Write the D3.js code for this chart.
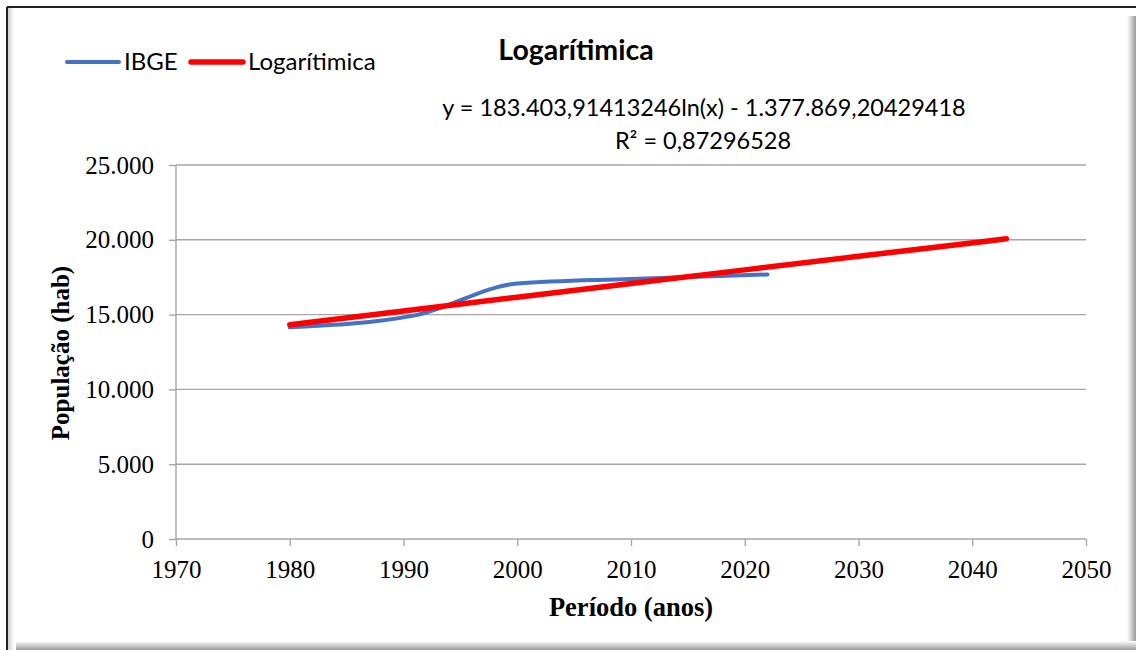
<!DOCTYPE html>
<html>
<head>
<meta charset="utf-8">
<script src="https://cdn.jsdelivr.net/npm/d3@7"></script>
<style>
  body { margin: 0; background: #fff; }
  svg { display: block; }
</style>
</head>
<body>
<div id="chart-area"></div>
<script>
// IBGE census values
var ibgeYears = [1980, 1991, 2000, 2010, 2022];
var ibgeValues = [14150, 14950, 17080, 17380, 17680];

// logarithmic trendline
var trendYears = [1980, 1990, 2000, 2010, 2020, 2030, 2043];
var trendValues = [14322, 15246, 16165, 17080, 17990, 18896, 20066];

var xTicks = [1970, 1980, 1990, 2000, 2010, 2020, 2030, 2040, 2050];
var yTicks = [0, 5000, 10000, 15000, 20000, 25000];

var W = 1136, H = 650;
var svg = d3.select("#chart-area").append("svg")
    .attr("width", W)
    .attr("height", H);

// frame + shadow
var defs = svg.append("defs");
var gr = defs.append("linearGradient").attr("id", "shR").attr("x1", 0).attr("x2", 1).attr("y1", 0).attr("y2", 0);
gr.append("stop").attr("offset", "0%").attr("stop-color", "#fff");
gr.append("stop").attr("offset", "100%").attr("stop-color", "#9a9a9a");
var gb = defs.append("linearGradient").attr("id", "shB").attr("x1", 0).attr("x2", 0).attr("y1", 0).attr("y2", 1);
gb.append("stop").attr("offset", "0%").attr("stop-color", "#fff");
gb.append("stop").attr("offset", "100%").attr("stop-color", "#9a9a9a");
var gl = defs.append("linearGradient").attr("id", "shL").attr("x1", 0).attr("x2", 1).attr("y1", 0).attr("y2", 0);
gl.append("stop").attr("offset", "0%").attr("stop-color", "#d0d0d0");
gl.append("stop").attr("offset", "100%").attr("stop-color", "#fff");

svg.append("rect").attr("x", 0).attr("y", 0).attr("width", W).attr("height", H).attr("fill", "#fff");
svg.append("rect").attr("x", 8).attr("y", 8).attr("width", 6).attr("height", H - 8).attr("fill", "url(#shL)");
svg.append("rect").attr("x", 1127).attr("y", 16).attr("width", 9).attr("height", H - 16).attr("fill", "url(#shR)");
svg.append("rect").attr("x", 16).attr("y", 641).attr("width", W - 16).attr("height", 9).attr("fill", "url(#shB)");
svg.append("line").attr("x1", 7).attr("x2", W).attr("y1", 7).attr("y2", 7)
    .attr("stroke", "#222").attr("stroke-width", 2);
svg.append("line").attr("x1", 7).attr("x2", 7).attr("y1", 7).attr("y2", H)
    .attr("stroke", "#222").attr("stroke-width", 2);

var x = d3.scaleLinear().domain([1970, 2050]).range([176, 1086]);
var y = d3.scaleLinear().domain([0, 25000]).range([539, 165]);

var ptBR = d3.formatLocale({ decimal: ",", thousands: ".", grouping: [3], currency: ["R$", ""] });
var fmt = ptBR.format(",");
var serif = "'Liberation Serif', 'Times New Roman', serif";

// gridlines
svg.append("g").selectAll("line").data(yTicks.filter(function(d){ return d > 0; }))
  .enter().append("line")
    .attr("x1", 176).attr("x2", 1086)
    .attr("y1", function(d){ return y(d); })
    .attr("y2", function(d){ return y(d); })
    .attr("stroke", "#a6a6a6").attr("stroke-width", 1.4);

var yAxis = svg.append("g")
    .attr("transform", "translate(176,0)")
    .call(d3.axisLeft(y).tickValues(yTicks).tickFormat(fmt).tickSize(7).tickPadding(15));
yAxis.attr("font-family", serif);
yAxis.selectAll("line, path").attr("stroke", "#a6a6a6").attr("stroke-width", 1.4);
yAxis.select(".domain").attr("d", "M0," + y(25000) + "V" + y(0));
yAxis.selectAll("text")
    .style("font-family", serif)
    .attr("font-size", "25px").attr("fill", "#000");

var xAxis = svg.append("g")
    .attr("transform", "translate(0,539)")
    .call(d3.axisBottom(x).tickValues(xTicks).tickFormat(d3.format("d")).tickSize(7).tickPadding(14));
xAxis.attr("font-family", serif);
xAxis.selectAll("line, path").attr("stroke", "#a6a6a6").attr("stroke-width", 1.4);
xAxis.select(".domain").attr("d", "M176,0H1086");
xAxis.selectAll("text")
    .style("font-family", serif)
    .attr("font-size", "25px").attr("fill", "#000");

// axis titles
svg.append("text")
    .attr("x", 631).attr("y", 616)
    .attr("text-anchor", "middle")
    .style("font-family", serif)
    .attr("font-weight", "bold").attr("font-size", "26.5px")
    .text("Período (anos)");
svg.append("text")
    .attr("transform", "translate(69,353) rotate(-90)")
    .attr("text-anchor", "middle")
    .style("font-family", serif)
    .attr("font-weight", "bold").attr("font-size", "25px")
    .text("População (hab)");

// series
var ibge = ibgeYears.map(function(d, i){ return [d, ibgeValues[i]]; });
var trend = trendYears.map(function(d, i){ return [d, trendValues[i]]; });

var line = d3.line()
    .x(function(d){ return x(d[0]); })
    .y(function(d){ return y(d[1]); })
    .curve(d3.curveMonotoneX);

svg.append("path")
    .datum(ibge)
    .attr("d", line)
    .attr("fill", "none").attr("stroke", "#4472c4")
    .attr("stroke-width", 4).attr("stroke-linecap", "round");

svg.append("path")
    .datum(trend)
    .attr("d", line)
    .attr("fill", "none").attr("stroke", "#ff0000")
    .attr("stroke-width", 5.5).attr("stroke-linecap", "round");

// title and equation
var sans = "Lato, 'Open Sans', sans-serif";
svg.append("text")
    .attr("x", 576).attr("y", 60)
    .attr("text-anchor", "middle")
    .attr("font-family", sans).attr("font-weight", "bold").attr("font-size", "28.5px")
    .text("Logarítimica");
svg.append("text")
    .attr("x", 704).attr("y", 116)
    .attr("text-anchor", "middle")
    .attr("font-family", sans).attr("font-size", "23.5px")
    .text("y = 183.403,91413246ln(x) - 1.377.869,20429418");
svg.append("text")
    .attr("x", 703).attr("y", 149)
    .attr("text-anchor", "middle")
    .attr("font-family", sans).attr("font-size", "23.5px")
    .text("R² = 0,87296528");

// legend
var legend = [
  { name: "IBGE", color: "#4472c4", w: 4, x: 67 },
  { name: "Logarítimica", color: "#ff0000", w: 5.5, x: 191 }
];
var lg = svg.append("g").selectAll("g").data(legend).enter().append("g");
lg.append("line")
    .attr("x1", function(d){ return d.x; })
    .attr("x2", function(d){ return d.x + 52; })
    .attr("y1", 62).attr("y2", 62)
    .attr("stroke", function(d){ return d.color; })
    .attr("stroke-width", function(d){ return d.w; })
    .attr("stroke-linecap", "round");
lg.append("text")
    .attr("x", function(d){ return d.x + 57; })
    .attr("y", 70)
    .attr("font-family", sans).attr("font-size", "24px")
    .text(function(d){ return d.name; });
</script>
</body>
</html>
